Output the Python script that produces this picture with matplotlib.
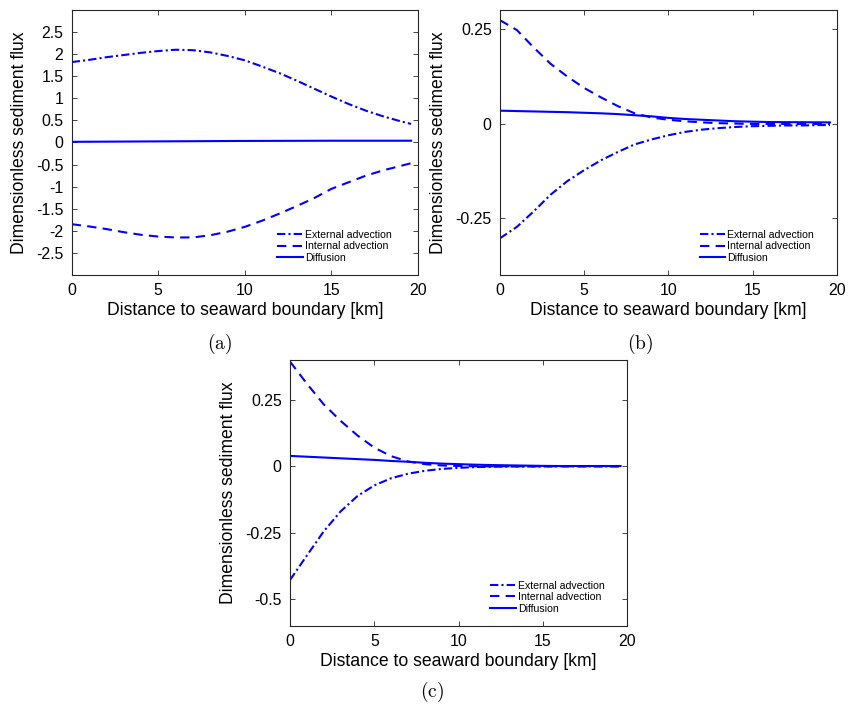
import numpy as np
import matplotlib
matplotlib.use("Agg")
import matplotlib.pyplot as plt

plt.rcParams['font.family'] = ['Liberation Sans', 'DejaVu Sans']
plt.rcParams['mathtext.fontset'] = 'cm'

# ---- data ----
x_km = [0, 1, 2, 3, 4, 5, 6, 7, 8, 9, 10, 11, 12, 13, 14, 15, 16, 17, 18, 19, 19.6]

# panel (a)
ext_a = [1.82, 1.87, 1.93, 1.98, 2.03, 2.07, 2.10, 2.09, 2.04, 1.96, 1.86,
         1.72, 1.57, 1.40, 1.22, 1.04, 0.87, 0.72, 0.59, 0.48, 0.42]
int_a = [-1.85, -1.90, -1.96, -2.03, -2.09, -2.13, -2.15, -2.15, -2.10, -2.02, -1.91,
         -1.77, -1.61, -1.44, -1.26, -1.05, -0.90, -0.75, -0.63, -0.53, -0.47]
dif_a = [0.015, 0.017, 0.019, 0.021, 0.023, 0.025, 0.027, 0.029, 0.031, 0.033, 0.035,
         0.036, 0.037, 0.038, 0.039, 0.040, 0.040, 0.040, 0.040, 0.040, 0.040]

# panel (b)
ext_b = [-0.303, -0.273, -0.232, -0.188, -0.152, -0.123, -0.097, -0.075, -0.055, -0.042, -0.031,
         -0.022, -0.016, -0.012, -0.009, -0.007, -0.006, -0.005, -0.005, -0.004, -0.004]
int_b = [0.273, 0.247, 0.201, 0.158, 0.124, 0.094, 0.069, 0.046, 0.027, 0.016, 0.010,
         0.006, 0.003, 0.001, 0.000, -0.001, -0.001, -0.001, -0.001, -0.001, -0.001]
dif_b = [0.034, 0.033, 0.032, 0.031, 0.030, 0.0285, 0.027, 0.025, 0.022, 0.019, 0.015,
         0.012, 0.010, 0.008, 0.006, 0.005, 0.004, 0.0037, 0.0035, 0.0032, 0.003]

# panel (c)
ext_c = [-0.428, -0.336, -0.245, -0.170, -0.112, -0.072, -0.045, -0.028, -0.017, -0.010, -0.006,
         -0.003, -0.002, -0.001, -0.001, -0.001, -0.0005, -0.0005, -0.0005, -0.0005, -0.0005]
int_c = [0.394, 0.311, 0.233, 0.171, 0.116, 0.070, 0.038, 0.018, 0.008, 0.003, 0.001,
         0.0, 0.0, 0.0, 0.0, 0.0, 0.0, 0.0, 0.0, 0.0, 0.0]
dif_c = [0.039, 0.036, 0.033, 0.030, 0.027, 0.024, 0.020, 0.017, 0.013, 0.010, 0.008,
         0.006, 0.0045, 0.0035, 0.0025, 0.0015, 0.001, 0.001, 0.001, 0.001, 0.001]

labels = ['External advection', 'Internal advection', 'Diffusion']

yticks_a = [-2.5, -2, -1.5, -1, -0.5, 0, 0.5, 1, 1.5, 2, 2.5]
yticklabels_a = ['-2.5', '-2', '-1.5', '-1', '-0.5', '0', '0.5', '1', '1.5', '2', '2.5']
yticks_b = [-0.25, 0, 0.25]
yticklabels_b = ['-0.25', '0', '0.25']
yticks_c = [-0.5, -0.25, 0, 0.25]
yticklabels_c = ['-0.5', '-0.25', '0', '0.25']
xticks = [0, 5, 10, 15, 20]


def Draw_panel(ax, ext, intl, dif, ylim, yt, ytl):
    c = (0, 0, 1)
    ax.plot(x_km, ext, color=c, lw=1.5, dashes=(4, 1.5, 1, 1.5), label=labels[0])
    ax.plot(x_km, intl, color=c, lw=1.5, dashes=(4.5, 3), label=labels[1])
    ax.plot(x_km, dif, color=c, lw=1.5, ls='-', label=labels[2])
    ax.set_xlim(0, 20)
    ax.set_ylim(*ylim)
    ax.set_xticks(xticks)
    ax.set_xticklabels([str(t) for t in xticks])
    ax.set_yticks(yt)
    ax.set_yticklabels(ytl)
    ax.tick_params(direction='in', top=True, right=True, length=3.6, width=0.6,
                   labelsize=11.4, pad=6, colors='#262626', labelcolor='black')
    for s in ax.spines.values():
        s.set_color('#262626')
        s.set_linewidth(0.8)
    ax.set_xlabel('Distance to seaward boundary [km]', fontsize=12.7, labelpad=3)
    ax.set_ylabel('Dimensionless sediment flux', fontsize=12.7, labelpad=6)
    ax.legend(loc='lower left', bbox_to_anchor=(0.594, 0.045), frameon=False,
              fontsize=7.6, handlelength=2.4, handletextpad=0.2, labelspacing=0.15,
              borderpad=0, borderaxespad=0)


fig = plt.figure(figsize=(8.53, 7.08), dpi=100)
ax_a = fig.add_axes([0.0840, 0.6116, 0.4060, 0.3743])
ax_b = fig.add_axes([0.5862, 0.6116, 0.3947, 0.3743])
ax_c = fig.add_axes([0.3400, 0.1163, 0.3954, 0.3752])

Draw_panel(ax_a, ext_a, int_a, dif_a, (-3, 3), yticks_a, yticklabels_a)
Draw_panel(ax_b, ext_b, int_b, dif_b, (-0.4, 0.3), yticks_b, yticklabels_b)
Draw_panel(ax_c, ext_c, int_c, dif_c, (-0.6, 0.4), yticks_c, yticklabels_c)

fig.text(220 / 853, 1 - 344 / 708, r'$\mathrm{(a)}$', ha='center', va='center', fontsize=14)
fig.text(640 / 853, 1 - 344 / 708, r'$\mathrm{(b)}$', ha='center', va='center', fontsize=14)
fig.text(432 / 853, 1 - 692 / 708, r'$\mathrm{(c)}$', ha='center', va='center', fontsize=14)

fig.savefig('out.png', dpi=100)
